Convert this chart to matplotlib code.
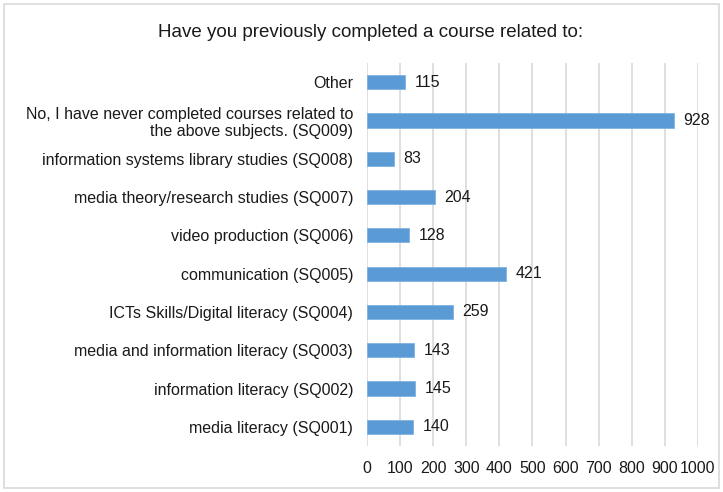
import matplotlib
matplotlib.use("Agg")
import matplotlib.pyplot as plt
from matplotlib.patches import Rectangle

categorias = [
    "media literacy (SQ001)",
    "information literacy (SQ002)",
    "media and information literacy (SQ003)",
    "ICTs Skills/Digital literacy (SQ004)",
    "communication (SQ005)",
    "video production (SQ006)",
    "media theory/research studies (SQ007)",
    "information systems library studies (SQ008)",
    "No, I have never completed courses related to\nthe above subjects. (SQ009)",
    "Other",
]
valores = [140, 145, 143, 259, 421, 128, 204, 83, 928, 115]
ticks_x = list(range(0, 1001, 100))

plt.rcParams["font.family"] = ["Liberation Sans", "DejaVu Sans"]

fig = plt.figure(figsize=(7.23, 4.92), dpi=100)
ax = fig.add_axes([0.5076, 0.0935, 0.4578, 0.7785])

y = range(len(categorias))
ax.barh(y, valores, height=0.37, color="#5b9bd5", edgecolor="#7fb2e0",
        linewidth=0.6, zorder=3)
for yi, v in zip(y, valores):
    ax.text(v + 28, yi, str(v), va="center", ha="left", fontsize=11.5,
            color="#1a1a1a")

ax.set_xlim(0, 1000)
ax.set_ylim(-0.5, len(categorias) - 0.5)
ax.set_xticks(ticks_x)
ax.set_yticks(list(y))
ax.set_yticklabels(categorias, fontsize=11.5, color="#1a1a1a")
ax.tick_params(axis="x", labelsize=11.5, colors="#1a1a1a", length=0, pad=11)
ax.tick_params(axis="y", length=0, pad=10)
ax.grid(axis="x", color="#d9d9d9", linewidth=1.2, zorder=0)
for s in ax.spines.values():
    s.set_visible(False)

fig.text(0.513, 0.934, "Have you previously completed a course related to:",
         ha="center", va="center", fontsize=13.5, color="#1a1a1a")

fig.patches.append(Rectangle((0.005, 0.008), 0.99, 0.984, transform=fig.transFigure,
                             fill=False, edgecolor="#d9d9d9", linewidth=1.2))

fig.savefig("out.png", dpi=100)
